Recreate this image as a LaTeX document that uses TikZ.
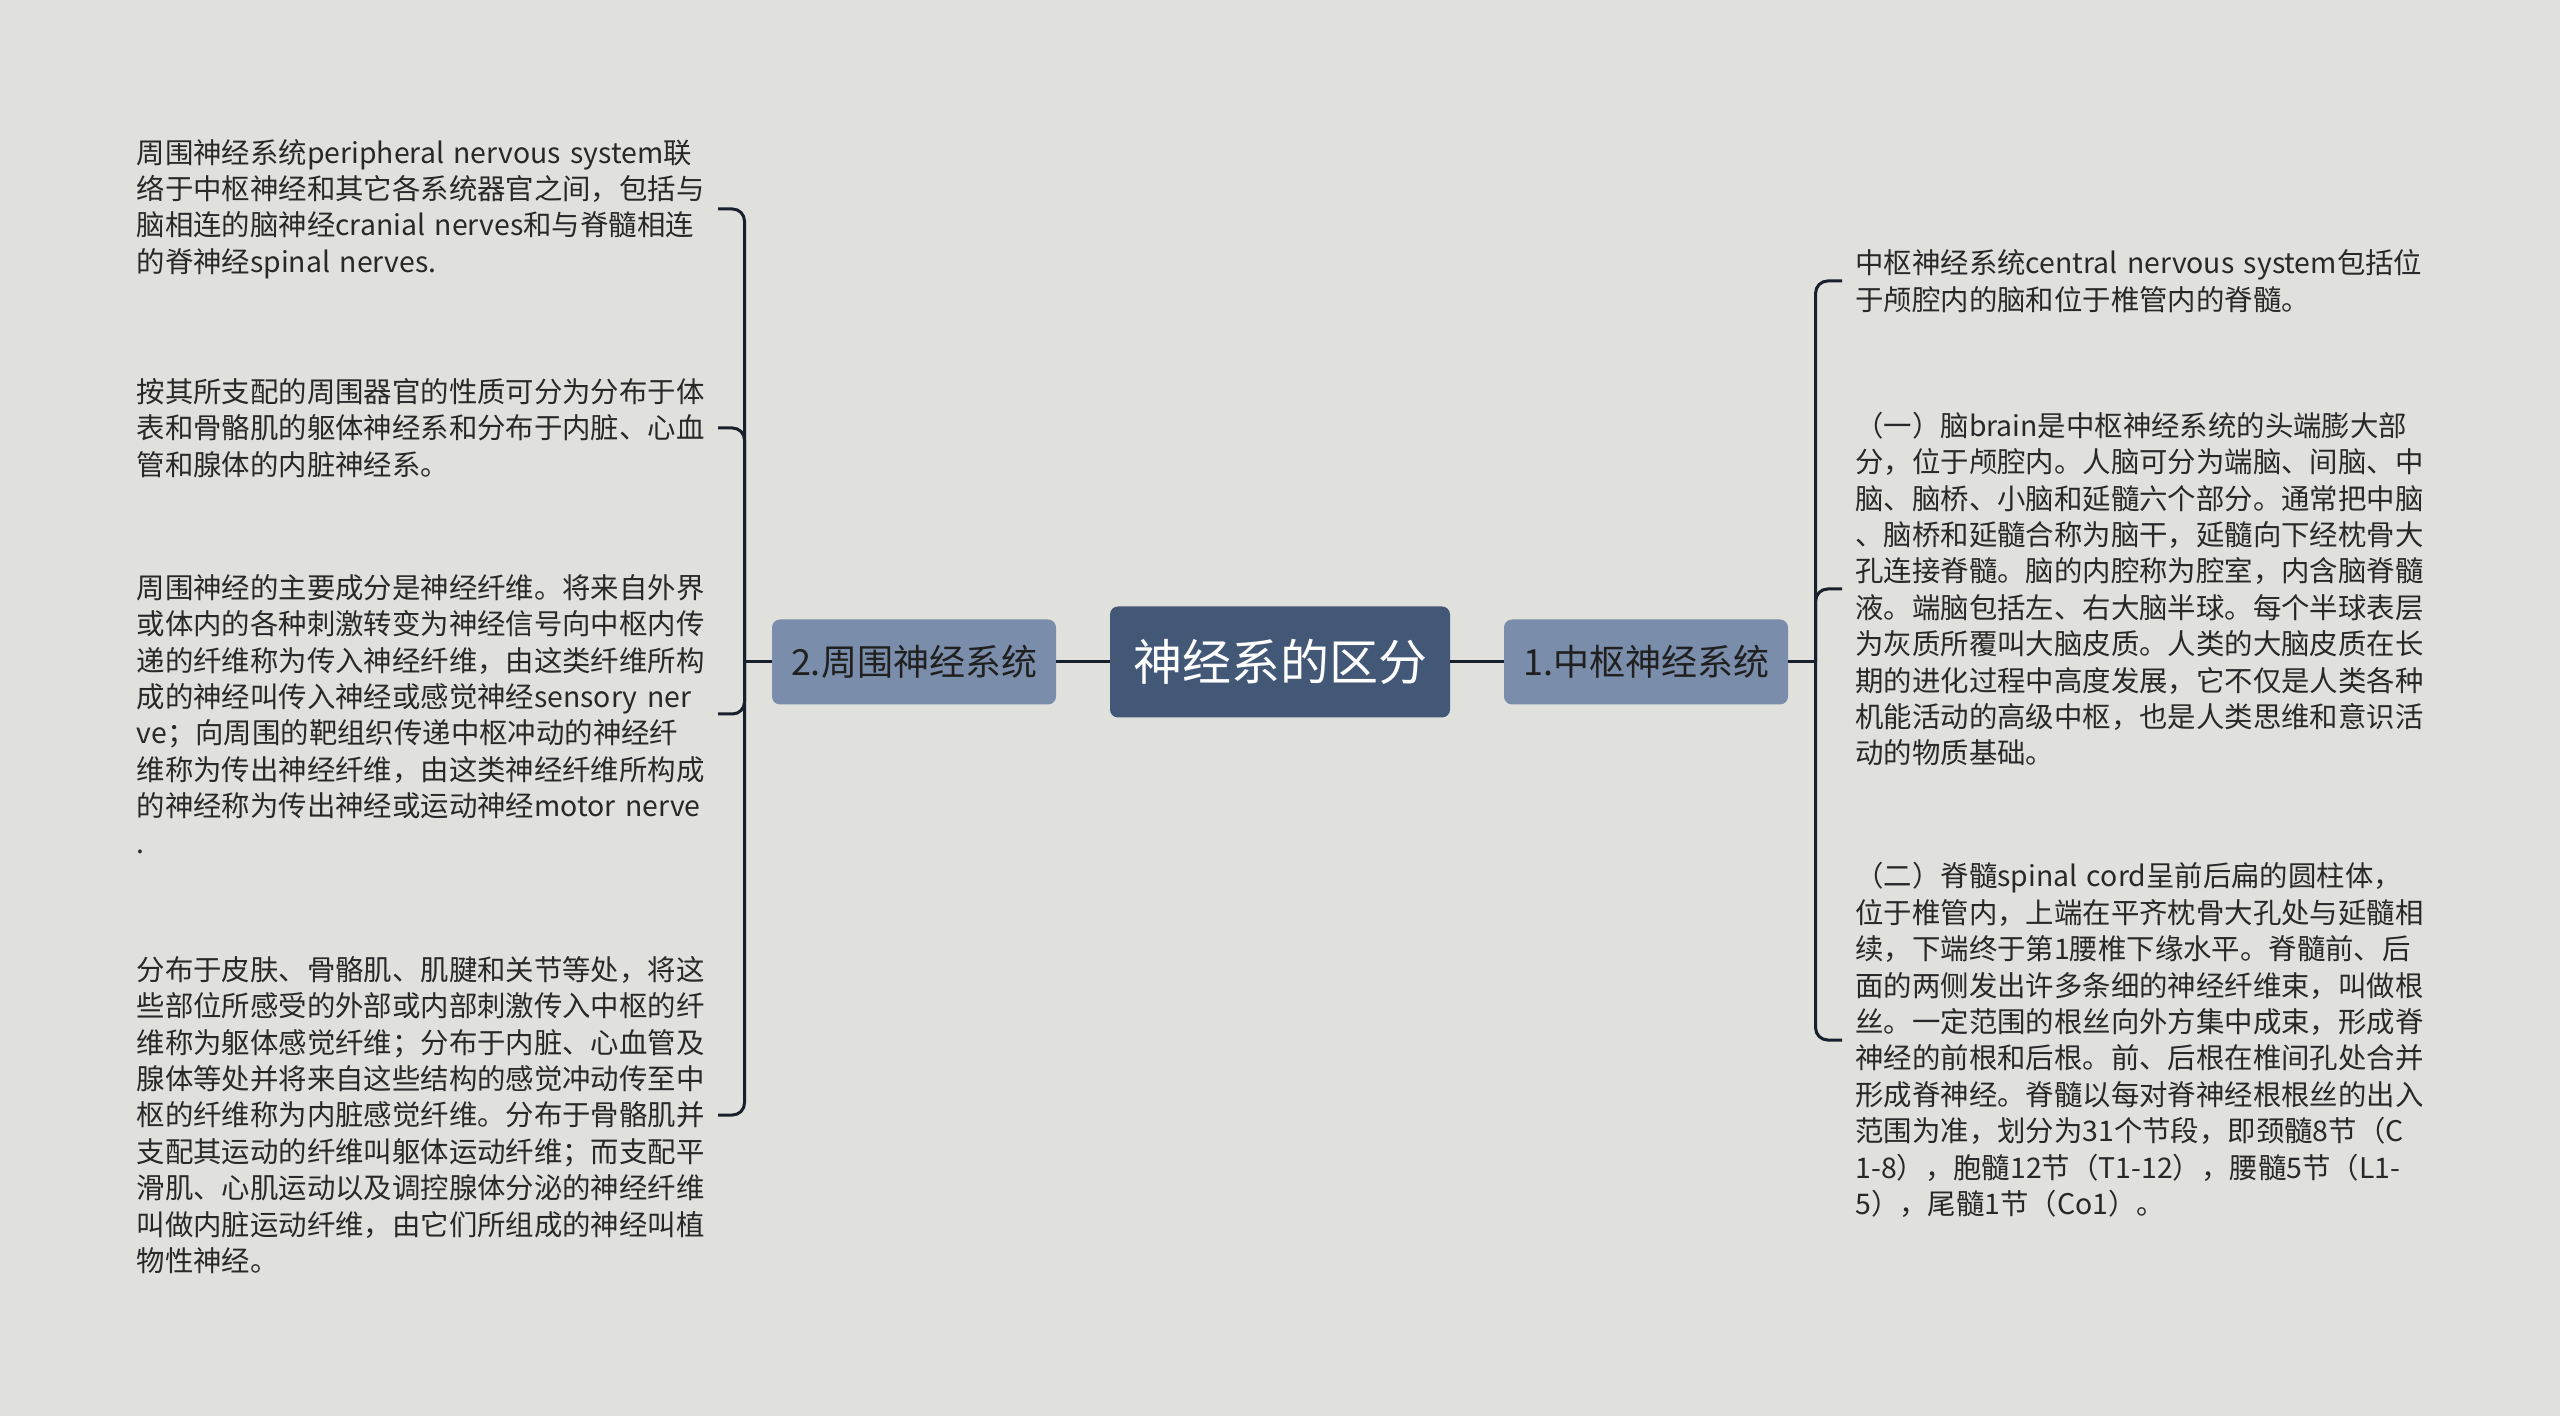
\documentclass[tikz,border=0pt]{standalone}
\usepackage{fontspec}
\setmainfont{Noto Sans CJK SC}
\usepackage{tikz}
\definecolor{bgpaper}{RGB}{224,225,221}
\definecolor{rootblue}{RGB}{66,88,118}
\definecolor{subblue}{RGB}{122,141,170}
\definecolor{linkdark}{RGB}{24,32,46}
\definecolor{textdark}{RGB}{40,40,40}

\begin{document}
\begin{tikzpicture}[x=0.5pt, y=-0.5pt,
		root/.style={fill=rootblue, text=white, rounded corners=4pt, minimum width=170pt, minimum height=55.5pt, font=\fontsize{24.5}{28}\selectfont},
		sub/.style={fill=subblue, text=textdark!80!black, rounded corners=4pt, minimum width=142pt, minimum height=42.5pt, font=\fontsize{18}{22}\selectfont},
		leaf/.style={text=textdark, text width=284pt, inner xsep=6.5pt, inner ysep=0pt, align=left, font=\fontsize{14.2}{18.2}\selectfont},
		link/.style={draw=linkdark, line width=1.5pt, rounded corners=6pt}]
			\useasboundingbox (0,0) rectangle (2560,1416);
			\fill[bgpaper] (0,0) rectangle (2560,1416);
			\node[root] (root) at (1280,662) {神经系的区分};
			\node[sub] (peri) at (914,662) {2.周围神经系统};
			\node[sub] (cns) at (1646,662) {1.中枢神经系统};
			\coordinate (pl) at (744.5,662);
			\coordinate (cr) at (1815.6,662);
			% left side
			\node[leaf, anchor=east] (p1) at (718,209) {周围神经系统peripheral~nervous~system联\\络于中枢神经和其它各系统器官之间，包括与\\脑相连的脑神经cranial~nerves和与脊髓相连\\的脊神经spinal~nerves.};
			\node[leaf, anchor=east] (p2) at (718,428) {按其所支配的周围器官的性质可分为分布于体\\表和骨骼肌的躯体神经系和分布于内脏、心血\\管和腺体的内脏神经系。};
			\node[leaf, anchor=east] (p3) at (718,714) {周围神经的主要成分是神经纤维。将来自外界\\或体内的各种刺激转变为神经信号向中枢内传\\递的纤维称为传入神经纤维，由这类纤维所构\\成的神经叫传入神经或感觉神经sensory~ner\\ve；向周围的靶组织传递中枢冲动的神经纤\\维称为传出神经纤维，由这类神经纤维所构成\\的神经称为传出神经或运动神经motor~nerve\\.};
			\node[leaf, anchor=east] (p4) at (718,1115) {分布于皮肤、骨骼肌、肌腱和关节等处，将这\\些部位所感受的外部或内部刺激传入中枢的纤\\维称为躯体感觉纤维；分布于内脏、心血管及\\腺体等处并将来自这些结构的感觉冲动传至中\\枢的纤维称为内脏感觉纤维。分布于骨骼肌并\\支配其运动的纤维叫躯体运动纤维；而支配平\\滑肌、心肌运动以及调控腺体分泌的神经纤维\\叫做内脏运动纤维，由它们所组成的神经叫植\\物性神经。};
			% right side
			\node[leaf, anchor=west] (c1) at (1842,281) {中枢神经系统central~nervous~system包括位\\于颅腔内的脑和位于椎管内的脊髓。};
			\node[leaf, anchor=west] (c2) at (1842,589) {（一）脑brain是中枢神经系统的头端膨大部\\分，位于颅腔内。人脑可分为端脑、间脑、中\\脑、脑桥、小脑和延髓六个部分。通常把中脑\\、脑桥和延髓合称为脑干，延髓向下经枕骨大\\孔连接脊髓。脑的内腔称为腔室，内含脑脊髓\\液。端脑包括左、右大脑半球。每个半球表层\\为灰质所覆叫大脑皮质。人类的大脑皮质在长\\期的进化过程中高度发展，它不仅是人类各种\\机能活动的高级中枢，也是人类思维和意识活\\动的物质基础。};
			\node[leaf, anchor=west] (c3) at (1842,1040) {（二）脊髓spinal~cord呈前后扁的圆柱体，\\位于椎管内，上端在平齐枕骨大孔处与延髓相\\续，下端终于第1腰椎下缘水平。脊髓前、后\\面的两侧发出许多条细的神经纤维束，叫做根\\丝。一定范围的根丝向外方集中成束，形成脊\\神经的前根和后根。前、后根在椎间孔处合并\\形成脊神经。脊髓以每对脊神经根根丝的出入\\范围为准，划分为31个节段，即颈髓8节（C\\1-8），胞髓12节（T1-12），腰髓5节（L1-\\5），尾髓1节（Co1）。};
			% connectors
			\draw[link] (root) -- (peri);
			\draw[link] (root) -- (cns);
			\draw[link] (peri) -- (pl);
			\draw[link] (cns) -- (cr);
			\foreach \n in {p1,p2,p3,p4}
				\draw[link] (pl) |- (\n.east);
			\foreach \n in {c1,c2,c3}
				\draw[link] (cr) |- (\n.west);
		\end{tikzpicture}
\end{document}
